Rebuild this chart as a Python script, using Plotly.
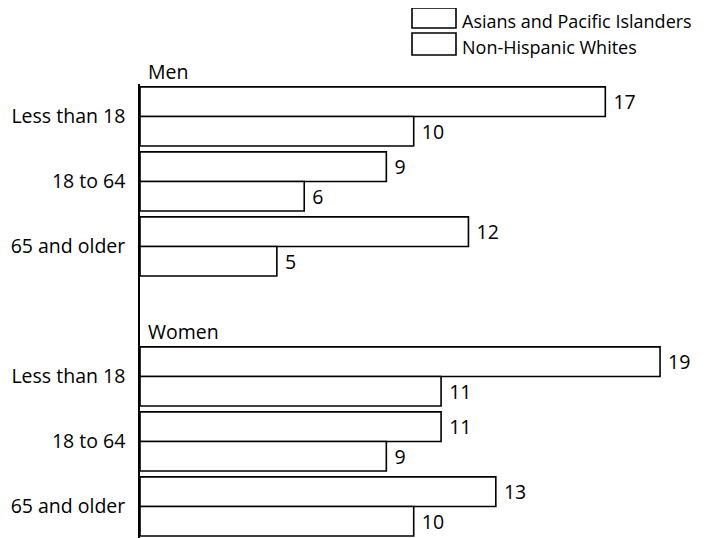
import plotly.graph_objects as go

# ---- data ----
age_groups = ["Less than 18", "18 to 64", "65 and older"]
sections = ["Men", "Women"]
api_men = [17, 9, 12]
nhw_men = [10, 6, 5]
api_women = [19, 11, 13]
nhw_women = [11, 9, 10]
series_names = ["Asians and Pacific Islanders", "Non-Hispanic Whites"]

# ---- layout helpers ----
# page is rendered with an 8px body margin, so the figure is shrunk by it
OFF = 8
PAGE_W, PAGE_H = 723, 538
W, H = PAGE_W - OFF, PAGE_H - OFF
AX_X, AX_TOP = 140, 84          # plot area left / top in page pixels
ML, MT, MR, MB = AX_X - OFF, AX_TOP - OFF, 0, 0
PW, PH = W - ML - MR, H - MT - MB
FONT = "Open Sans"
FS = 19.5
LEG_FS = 18

def px_x(px):
    return (px - AX_X) / PW

def px_y(py):
    return (PAGE_H - py) / PH

# positions: men groups 0..2, women groups 4..6 (blank slot between)
pos = [0, 1, 2, 4, 5, 6]
api_vals = api_men + api_women
nhw_vals = nhw_men + nhw_women
labels = age_groups + age_groups

bar_style = dict(color="white", line=dict(color="black", width=1.6))
text_font = dict(family=FONT, size=FS, color="black")

fig = go.Figure()
for name, vals in zip(series_names, [api_vals, nhw_vals]):
    fig.add_trace(go.Bar(
        y=pos, x=vals, orientation="h", name=name,
        marker=bar_style, text=vals, texttemplate=" %{text}",
        textposition="outside", textfont=text_font,
        cliponaxis=False, showlegend=False,
    ))

shapes = []
annotations = []
# legend boxes + text (text anchored at top so boxes never overlap)
legend_rows = [(8, 28), (33, 55)]
legend_text_top = [OFF, 34]
for name, (y0, y1), ttop in zip(series_names, legend_rows, legend_text_top):
    shapes.append(dict(type="rect", xref="paper", yref="paper",
                       x0=px_x(412), x1=px_x(456), y0=px_y(y1), y1=px_y(y0),
                       line=dict(color="black", width=1.6), fillcolor="white"))
    annotations.append(dict(text=name, xref="paper", yref="paper",
                            x=px_x(461), y=px_y(ttop),
                            xanchor="left", yanchor="top", showarrow=False,
                            borderpad=0,
                            font=dict(family=FONT, size=LEG_FS, color="black")))

# section titles
for name, ypx in zip(sections, [71, 331]):
    annotations.append(dict(text=name, xref="paper", yref="paper",
                            x=px_x(146), y=px_y(ypx), xanchor="left",
                            yanchor="middle", showarrow=False, font=text_font))

fig.update_layout(
    width=W, height=H,
    margin=dict(l=ML, r=MR, t=MT, b=MB, pad=0, autoexpand=False),
    paper_bgcolor="white", plot_bgcolor="white",
    barmode="group", bargap=0.09, bargroupgap=0,
    shapes=shapes, annotations=annotations,
    font=dict(family=FONT, size=FS, color="black"),
    xaxis=dict(range=[0, 21.3], visible=False, showgrid=False,
               zeroline=False, automargin=False),
    yaxis=dict(range=[6.485, -0.5], tickvals=pos, ticktext=labels,
               showline=True, linecolor="black", linewidth=1.6,
               showgrid=False, zeroline=False, ticks="", ticklen=0,
               tickfont=text_font, ticklabelstandoff=9, automargin=False),
)

fig.write_html("out.html")
